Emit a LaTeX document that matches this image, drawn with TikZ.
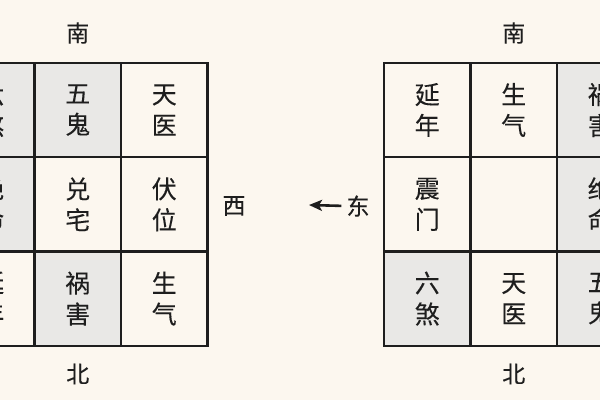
\documentclass[tikz,border=0pt]{standalone}
\usepackage{fontspec}
\setmainfont{Noto Sans CJK SC}[FakeBold=0.15]
\usetikzlibrary{arrows.meta}
\definecolor{bg}{HTML}{FCF7EF}
\definecolor{shade}{HTML}{E9E8E6}
\definecolor{ink}{HTML}{1E1E1E}
\tikzset{
 cell/.style={draw=ink, line width=2.3pt, minimum width=86.5pt, minimum height=94.3pt, inner sep=0pt, align=center, text=ink, font=\fontsize{25}{31}\selectfont, fill=bg},
 dark/.style={cell, fill=shade},
 lbl/.style={text=ink, font=\fontsize{23}{26}\selectfont, inner sep=0pt}
}
\begin{document}
\begin{tikzpicture}[x=1pt,y=-1pt]
\useasboundingbox (0,0) rectangle (600,400);
\fill[bg] (0,0) rectangle (600,400);
\begin{scope}
\clip (0,0) rectangle (600,400);
% left grid
\node[dark] (L11) at (-8.25,110) {六\\煞};
\node[dark] (L12) at (77.75,110) {五\\鬼};
\node[cell] (L13) at (164.25,110) {天\\医};
\node[dark] (L21) at (-8.25,204.3) {绝\\命};
\node[cell] (L22) at (77.75,204.3) {兑\\宅};
\node[cell] (L23) at (164.25,204.3) {伏\\位};
\node[cell] (L31) at (-8.25,298.6) {延\\年};
\node[dark] (L32) at (77.75,298.6) {祸\\害};
\node[cell] (L33) at (164.25,298.6) {生\\气};
% right grid
\node[cell] (R11) at (427.25,110) {延\\年};
\node[cell] (R12) at (513.75,110) {生\\气};
\node[dark] (R13) at (600.25,110) {祸\\害};
\node[cell] (R21) at (427.25,204.3) {震\\门};
\node[cell] (R22) at (513.75,204.3) {};
\node[dark] (R23) at (600.25,204.3) {绝\\命};
\node[dark] (R31) at (427.25,298.6) {六\\煞};
\node[cell] (R32) at (513.75,298.6) {天\\医};
\node[dark] (R33) at (600.25,298.6) {五\\鬼};
\end{scope}
% direction labels
\node[lbl] (nanL) at (77.75,33) {南};
\node[lbl] (beiL) at (77.75,374) {北};
\node[lbl] (nanR) at (513.75,33) {南};
\node[lbl] (beiR) at (513.75,374) {北};
\node[lbl] (xi) at (234,206) {西};
\node[lbl] (dong) at (358,206) {东};
\coordinate (tip) at (309,205);
\draw[ink, line width=2.6pt, -{Stealth[length=13pt,width=11pt,inset=3pt]}, shorten <=5pt] (dong.west) -- (tip);
\end{tikzpicture}
\end{document}
